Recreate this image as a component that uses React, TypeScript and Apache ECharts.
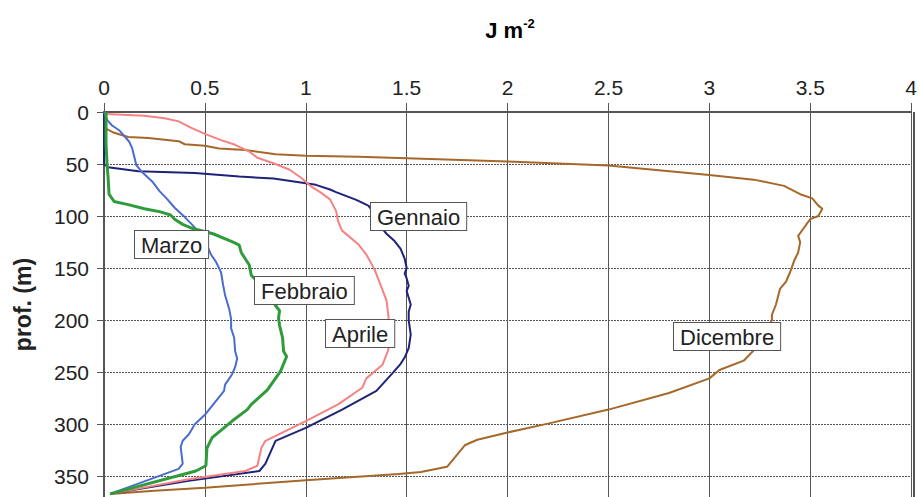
import React, { useEffect, useRef } from "react";
import * as echarts from "echarts";

const xTicks = [0, 0.5, 1, 1.5, 2, 2.5, 3, 3.5, 4];
const depthTicks = [0, 50, 100, 150, 200, 250, 300, 350];

const gennaio: number[][] = [
  [0, 0], [0, 50], [0.02, 53], [0.17, 57], [0.45, 58.6], [0.67, 62], [0.84, 64], [1.0, 68.5],
  [1.05, 70], [1.12, 74.5], [1.15, 77], [1.25, 84.5], [1.31, 90], [1.35, 100], [1.37, 110],
  [1.4, 117], [1.44, 124], [1.47, 131.5], [1.49, 141], [1.5, 150], [1.49, 155], [1.5, 160],
  [1.51, 167], [1.5, 172], [1.52, 185], [1.51, 192], [1.51, 200], [1.52, 214], [1.51, 227],
  [1.49, 236], [1.47, 242], [1.43, 251], [1.35, 268], [1.18, 286], [1.0, 303.5], [0.85, 316],
  [0.8, 338], [0.77, 345], [0.42, 354.5], [0.03, 367],
];

const febbraio: number[][] = [
  [0.01, 0], [0.01, 30], [0.015, 50], [0.02, 62], [0.025, 79], [0.05, 86], [0.12, 89],
  [0.2, 93], [0.28, 96], [0.33, 99], [0.35, 103], [0.39, 108], [0.44, 112], [0.54, 117],
  [0.64, 125], [0.67, 128], [0.68, 135], [0.7, 141], [0.72, 147], [0.73, 157], [0.8, 170],
  [0.85, 186], [0.87, 191], [0.865, 198], [0.87, 205], [0.885, 217], [0.89, 230], [0.905, 235],
  [0.875, 249], [0.81, 267], [0.73, 281], [0.71, 286], [0.635, 297], [0.536, 313], [0.51, 323],
  [0.505, 340], [0.455, 345], [0.03, 367],
];

const marzo: number[][] = [
  [0, 0], [0.017, 8], [0.04, 13], [0.075, 17.5], [0.1, 23], [0.125, 28.6], [0.14, 35],
  [0.15, 43], [0.16, 51], [0.19, 58], [0.24, 67], [0.275, 76], [0.31, 83], [0.35, 92],
  [0.4, 101], [0.44, 109], [0.47, 116], [0.5, 123], [0.53, 137], [0.555, 144], [0.58, 154],
  [0.59, 166], [0.6, 176], [0.62, 189], [0.63, 199], [0.63, 208], [0.645, 217], [0.65, 230],
  [0.66, 237], [0.65, 245], [0.635, 252], [0.6, 262], [0.595, 268], [0.5, 291], [0.45, 300],
  [0.42, 310], [0.39, 316], [0.38, 322], [0.39, 338], [0.37, 343], [0.03, 367],
];

const aprile: number[][] = [
  [0.01, 2], [0.2, 3.5], [0.3, 6], [0.37, 9], [0.43, 15], [0.5, 21], [0.58, 27], [0.65, 31.5],
  [0.72, 38], [0.76, 44], [0.85, 50], [0.92, 55.5], [0.975, 63], [1.03, 72], [1.075, 77.5],
  [1.12, 84], [1.15, 95], [1.16, 105], [1.18, 114], [1.26, 127], [1.3, 137], [1.34, 151],
  [1.37, 166], [1.4, 181], [1.41, 197], [1.41, 228], [1.38, 243], [1.3, 256], [1.28, 265],
  [1.16, 281], [1.0, 297], [0.8, 316], [0.78, 322.6], [0.76, 340], [0.7, 345], [0.42, 353],
  [0.03, 367],
];

const dicembre: number[][] = [
  [0.01, 16], [0.05, 20], [0.12, 24], [0.22, 25], [0.37, 28], [0.4, 31], [0.5, 32.5],
  [0.57, 35], [0.7, 36.5], [0.85, 40.5], [1.0, 42], [1.26, 43], [1.5, 44.5], [2.0, 47.5],
  [2.5, 51.5], [2.67, 54.5], [3.0, 60.5], [3.22, 65], [3.37, 71], [3.45, 79], [3.51, 83],
  [3.54, 90], [3.56, 93], [3.54, 100], [3.5, 103], [3.47, 111], [3.44, 119], [3.45, 125],
  [3.44, 135], [3.42, 143], [3.4, 154], [3.38, 163], [3.35, 170], [3.33, 185], [3.31, 195],
  [3.31, 200], [3.28, 212], [3.24, 225], [3.2, 233], [3.17, 239], [3.05, 248], [3.0, 256],
  [2.8, 270], [2.5, 286], [2.2, 299.5], [2.0, 308], [1.85, 315], [1.79, 320], [1.7, 341],
  [1.57, 346], [1.46, 348], [1.0, 354], [0.5, 361], [0.25, 364], [0.03, 367],
];

const seriesNames = ["Gennaio", "Febbraio", "Marzo", "Aprile", "Dicembre"];

const FONT = "'Liberation Sans', Arial, sans-serif";

export default function App() {
  const ref = useRef<HTMLDivElement>(null);
  useEffect(() => {
    document.body.style.margin = "0";
    if (!ref.current) return;
    const chart = echarts.init(ref.current, undefined, { renderer: "svg" });
    const mk = (name: string, data: number[][], color: string, width: number) => ({
      name,
      type: "line",
      data,
      showSymbol: false,
      symbol: "none",
      lineStyle: { color, width },
      itemStyle: { color },
      clip: true,
      z: 3,
    });
    const box = (text: string, x: number, y: number) => ({
      type: "text",
      x,
      y,
      z: 100,
      style: {
        text,
        fontFamily: FONT,
        fontSize: 22,
        fill: "#222",
        backgroundColor: "#fff",
        borderColor: "#555",
        borderWidth: 1,
        padding: [3, 6, 2, 6],
      },
    });
    chart.setOption({
      animation: false,
      backgroundColor: "#fff",
      grid: { left: 104, right: 6, top: 112, height: 387, containLabel: false },
      xAxis: {
        type: "value",
        position: "top",
        min: xTicks[0],
        max: xTicks[xTicks.length - 1],
        interval: 0.5,
        axisLine: { show: true, lineStyle: { color: "#555", width: 2 } },
        axisTick: { show: true, length: 9, lineStyle: { color: "#555", width: 1 } },
        axisLabel: { color: "#222", fontSize: 21, fontFamily: FONT, margin: 14 },
        splitLine: { show: true, lineStyle: { color: "#555", width: 1, type: "solid" } },
      },
      yAxis: {
        type: "value",
        inverse: true,
        min: depthTicks[0],
        max: 370,
        interval: 50,
        name: "prof. (m)",
        nameLocation: "middle",
        nameGap: 70,
        nameRotate: 90,
        nameTextStyle: { fontFamily: FONT, fontSize: 23, fontWeight: "bold", color: "#222" },
        axisLine: { show: true, lineStyle: { color: "#555", width: 2 } },
        axisTick: { show: true, length: 7, lineStyle: { color: "#555", width: 1 } },
        axisLabel: { color: "#222", fontSize: 21, fontFamily: FONT, margin: 15, showMaxLabel: false },
        splitLine: { show: true, lineStyle: { color: "#555", width: 1, type: [2, 1] } },
      },
      series: [
        mk(seriesNames[4], dicembre, "#a5682a", 2),
        mk(seriesNames[0], gennaio, "#1e2378", 2),
        mk(seriesNames[3], aprile, "#f58282", 2),
        mk(seriesNames[2], marzo, "#4a6ccb", 2),
        mk(seriesNames[1], febbraio, "#2f9c3c", 3),
      ],
      graphic: [
        {
          type: "text",
          x: 510,
          y: 30,
          style: {
            text: "{a|J m}{b|-2}",
            align: "center",
            verticalAlign: "middle",
            rich: {
              a: { fontFamily: FONT, fontSize: 22, fontWeight: "bold", color: "#222" },
              b: {
                fontFamily: FONT,
                fontSize: 13,
                fontWeight: "bold",
                color: "#222",
                verticalAlign: "top",
                padding: [0, 0, 13, 0],
              },
            },
          },
        },
        {
          type: "rect",
          shape: { x: 913, y: 112, width: 2, height: 390 },
          style: { fill: "#555" },
          z: 50,
        },
        box("Gennaio", 371, 203),
        box("Marzo", 135, 231),
        box("Febbraio", 255, 277),
        box("Aprile", 326, 320),
        box("Dicembre", 674, 323),
      ],
    });
    return () => chart.dispose();
  }, []);
  return <div ref={ref} style={{ position: "fixed", left: 0, top: 0, width: 920, height: 497 }} />;
}
